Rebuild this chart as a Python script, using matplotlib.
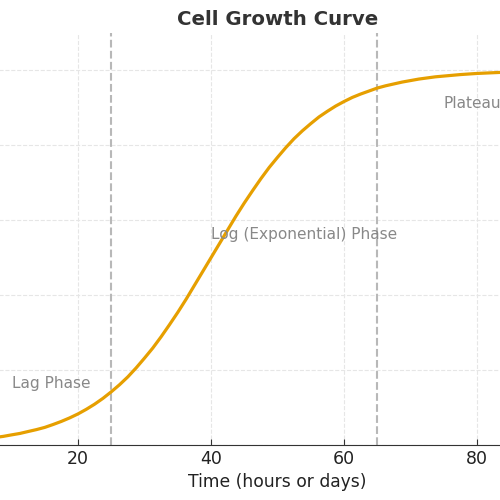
import numpy as np
import matplotlib.pyplot as plt

# cell count, every 1.25 time units
time = np.arange(0, 100.1, 1.25)
cells = [8, 9.5, 11, 12.7, 15, 17.1, 20, 23, 27, 30.8, 36, 41.1, 47, 54.7, 63, 72.4,
         83, 95.3, 109, 124.5, 142, 161, 182, 206, 232, 259, 289, 321, 354, 389,
         426, 463, 500, 537, 574, 611, 646, 679, 711, 741, 768, 794, 818, 839,
         858, 876, 891, 905, 917, 928, 937, 945, 953, 959, 964, 969, 973, 977,
         980, 983, 985, 987, 989, 990.5, 992, 993, 994, 995, 995.5, 996, 997,
         997, 997.5, 998, 998, 998.4, 998.6, 998.8, 999, 999, 999]

phase_bounds = [25, 65]
phase_labels = ["Lag Phase", "Log (Exponential) Phase", "Plateau"]
label_x = [10, 40, 75]
label_y = [165, 563, 912]

fig = plt.figure(figsize=(5, 5), dpi=100)
ax = fig.add_axes([-0.11, 0.11, 1.33, 0.824])

ax.plot(time, cells, color="#E69F00", lw=2.3, zorder=3)
for b in phase_bounds:
    ax.axvline(b, color="#b8b8b8", ls="--", lw=1.5, zorder=2)
for lab, x, y in zip(phase_labels, label_x, label_y):
    ax.text(x, y, lab, color="#888888", fontsize=11.1, va="center", ha="left")

ax.set_xlim(0, 100)
ax.set_ylim(0, 1100)
ax.set_yticks([0, 200, 400, 600, 800, 1000])
ax.set_xticks([0, 20, 40, 60, 80, 100])
ax.grid(True, ls="--", color="#e6e6e6", lw=0.8)
for s in ["top", "right", "left"]:
    ax.spines[s].set_visible(False)
ax.spines["bottom"].set_color("#333333")
ax.tick_params(axis="x", direction="in", length=4, labelsize=12.5, colors="#333333",
               labelcolor="#222222")
ax.tick_params(axis="y", left=False, labelleft=False)

ax.set_xlabel("Time (hours or days)", fontsize=12.3, color="#222222", labelpad=4)
ax.set_title("Cell Growth Curve", fontsize=14.2, fontweight="bold", color="#333333", pad=6)

fig.savefig("out.png", dpi=100)
